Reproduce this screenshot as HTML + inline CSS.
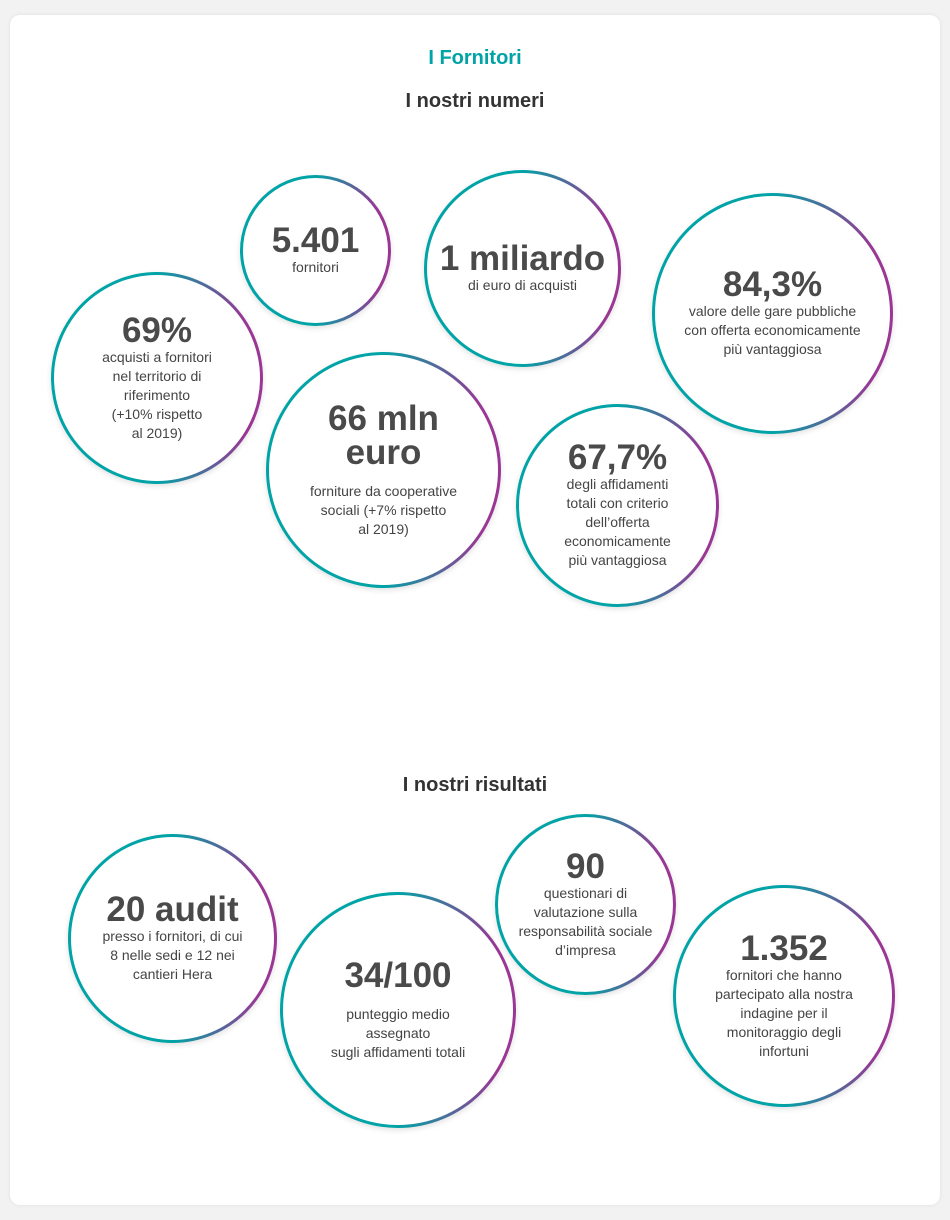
<!DOCTYPE html>
<html><head><meta charset="utf-8"><style>
body{margin:0;width:950px;height:1220px;background:#f2f2f2;font-family:"Liberation Sans",sans-serif;position:relative;overflow:hidden}
.card{position:absolute;left:10px;top:15px;width:930px;height:1190px;background:#fff;border-radius:10px;box-shadow:0 0 4px rgba(0,0,0,.08)}
h1,h2{position:absolute;left:0;width:950px;text-align:center;margin:0;font-weight:bold}
h1{top:47px;font-size:20px;color:#00a3a6}
h2{font-size:20px;color:#333}
.c{position:absolute;border-radius:50%;background:linear-gradient(to right,#00a3a6 0%,#00a3a6 50%,#4f6b9a 72%,#9a3694 92%);box-shadow:0 2px 6px rgba(0,0,0,.12)}
.c>div{position:absolute;inset:3px;border-radius:50%;background:#fff;display:flex;flex-direction:column;align-items:center;justify-content:center;text-align:center}
.n{font-size:35px;font-weight:bold;color:#4a4a4a;line-height:34px}
.t{font-size:14px;color:#444;line-height:19px;margin-top:4px}
</style></head><body>
<div class="card"></div>
<h1>I Fornitori</h1>
<h2 style="top:90px">I nostri numeri</h2>
<h2 style="top:774px">I nostri risultati</h2>

<div class="c" style="left:240px;top:175px;width:151px;height:151px"><div><span class="n">5.401</span><span class="t" style="margin-top:0">fornitori</span></div></div>
<div class="c" style="left:424px;top:170px;width:197px;height:197px"><div><span class="n">1 miliardo</span><span class="t" style="margin-top:0">di euro di acquisti</span></div></div>
<div class="c" style="left:652px;top:193px;width:241px;height:241px"><div><span class="n">84,3%</span><span class="t" style="margin-top:0">valore delle gare pubbliche<br>con offerta economicamente<br>più vantaggiosa</span></div></div>
<div class="c" style="left:51px;top:272px;width:212px;height:212px"><div><span class="n">69%</span><span class="t" style="margin-top:0">acquisti a fornitori<br>nel territorio di<br>riferimento<br>(+10% rispetto<br>al 2019)</span></div></div>
<div class="c" style="left:266px;top:352px;width:235px;height:236px"><div><span class="n">66 mln<br>euro</span><span class="t" style="margin-top:12px">forniture da cooperative<br>sociali (+7% rispetto<br>al 2019)</span></div></div>
<div class="c" style="left:516px;top:404px;width:203px;height:203px"><div><span class="n">67,7%</span><span class="t" style="margin-top:0">degli affidamenti<br>totali con criterio<br>dell’offerta<br>economicamente<br>più vantaggiosa</span></div></div>

<div class="c" style="left:68px;top:834px;width:209px;height:209px"><div><span class="n">20 audit</span><span class="t" style="margin-top:0">presso i fornitori, di cui<br>8 nelle sedi e 12 nei<br>cantieri Hera</span></div></div>
<div class="c" style="left:280px;top:892px;width:236px;height:236px"><div><span class="n">34/100</span><span class="t" style="margin-top:12px">punteggio medio<br>assegnato<br>sugli affidamenti totali</span></div></div>
<div class="c" style="left:495px;top:814px;width:181px;height:181px"><div><span class="n">90</span><span class="t" style="margin-top:0">questionari di<br>valutazione sulla<br>responsabilità sociale<br>d’impresa</span></div></div>
<div class="c" style="left:673px;top:885px;width:222px;height:222px"><div><span class="n">1.352</span><span class="t" style="margin-top:0">fornitori che hanno<br>partecipato alla nostra<br>indagine per il<br>monitoraggio degli<br>infortuni</span></div></div>
</body></html>
